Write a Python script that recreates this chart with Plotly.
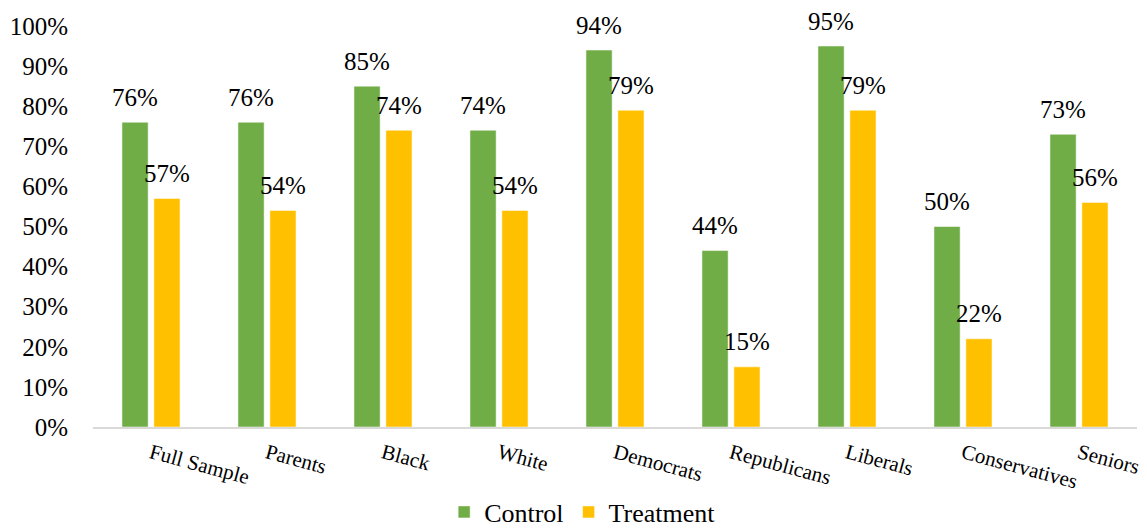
import plotly.graph_objects as go

categories = ["Full Sample", "Parents", "Black", "White", "Democrats",
              "Republicans", "Liberals", "Conservatives", "Seniors"]
control = [0.76, 0.76, 0.85, 0.74, 0.94, 0.44, 0.95, 0.50, 0.73]
treatment = [0.57, 0.54, 0.74, 0.54, 0.79, 0.15, 0.79, 0.22, 0.56]
y_ticks = [i / 10 for i in range(11)]

FONT = "Liberation Serif"
BARGAP = 0.45
PLOT_W = 1147 - 93 - 10
SLOT_PX = PLOT_W / len(categories) * (1 - BARGAP) / 2  # width of one bar slot

fig = go.Figure()
series = [("Control", control, "#70AD47", -0.5), ("Treatment", treatment, "#FFC000", 0.5)]
for name, vals, color, side in series:
    fig.add_trace(go.Bar(
        name=name, x=categories, y=vals,
        marker=dict(color=color, line=dict(color="#ffffff", width=0.5)),
        hoverinfo="x+y",
    ))
    for cat, v in zip(categories, vals):
        fig.add_annotation(
            x=cat, y=v, xref="x", yref="y", text=f"{round(v * 100)}%",
            showarrow=False, xanchor="center", yanchor="middle",
            xshift=side * SLOT_PX, yshift=25,
            font=dict(family=FONT, size=25, color="#000000"),
        )

fig.update_layout(
    width=1147, height=531,
    margin=dict(l=93, r=10, t=26, b=104, autoexpand=False),
    paper_bgcolor="white", plot_bgcolor="white",
    barmode="group", bargap=BARGAP, bargroupgap=0.18,
    font=dict(family=FONT, size=25, color="#000000"),
    showlegend=True,
    legend=dict(orientation="h", x=0.469, xanchor="center", y=-0.212, yanchor="middle",
                font=dict(family=FONT, size=26, color="#000000"),
                itemwidth=30, traceorder="normal"),
    xaxis=dict(showline=True, linecolor="#D9D9D9", linewidth=2, ticks="",
               tickangle=15, tickfont=dict(family=FONT, size=21, color="#000000"),
               showgrid=False, automargin=False, ticklabelstandoff=4),
    yaxis=dict(range=[0, 1.0], tickvals=y_ticks, tickformat=".0%",
               showgrid=False, zeroline=False, showline=False, automargin=False,
               tickfont=dict(family=FONT, size=25, color="#000000"), ticks="",
               ticklabelstandoff=24),
)

fig.write_html("out.html")
